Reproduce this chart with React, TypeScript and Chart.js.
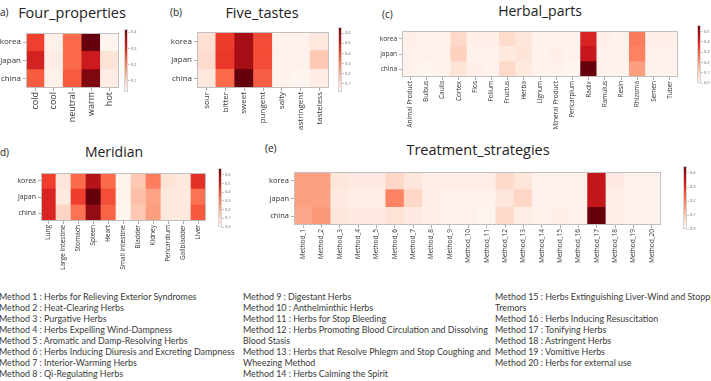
import React, { useEffect, useRef } from "react";
import { Chart, registerables } from "chart.js";

Chart.register(...registerables);

// ---------- data ----------
const rowNames = ["korea", "japan", "china"];

const propertyLabels = ["cold", "cool", "neutral", "warm", "hot"];
const propertyKorea = [0.27, 0.04, 0.225, 0.42, 0.03];
const propertyJapan = [0.31, 0.05, 0.225, 0.32, 0.07];
const propertyChina = [0.24, 0.04, 0.24, 0.4, 0.05];
const propertyTicks = [0.1, 0.2, 0.3, 0.4];

const tasteLabels = ["sour", "bitter", "sweet", "pungent", "salty", "astringent", "tasteless"];
const tasteKorea = [0.1, 0.42, 0.58, 0.39, 0.03, 0.03, 0.07];
const tasteJapan = [0.11, 0.43, 0.58, 0.39, 0.03, 0.03, 0.15];
const tasteChina = [0.07, 0.34, 0.66, 0.36, 0.03, 0.02, 0.05];
const tasteTicks = [0.1, 0.2, 0.3, 0.4, 0.5, 0.6];

const partLabels = [
  "Animal Product", "Bulbus", "Caulis", "Cortex", "Flos", "Folium", "Fructus", "Herba",
  "Lignum", "Mineral Product", "Pericarpium", "Radix", "Ramulus", "Resin", "Rhizoma", "Semen", "Tuber",
];
const partKorea = [0.02, 0.01, 0.01, 0.085, 0.02, 0.02, 0.08, 0.05, 0.01, 0.01, 0.01, 0.4, 0.02, 0.01, 0.25, 0.02, 0.02];
const partJapan = [0.01, 0.01, 0.01, 0.1, 0.01, 0.01, 0.04, 0.06, 0.01, 0.02, 0.01, 0.43, 0.01, 0.01, 0.24, 0.01, 0.01];
const partChina = [0.01, 0.0, 0.01, 0.06, 0.02, 0.01, 0.085, 0.04, 0.01, 0.01, 0.0, 0.565, 0.01, 0.01, 0.19, 0.01, 0.01];
const partTicks = [0.0, 0.1, 0.2, 0.3, 0.4, 0.5];

const meridianLabels = [
  "Lung", "Large Intestine", "Stomach", "Spleen", "Heart", "Small Intestine",
  "Bladder", "Kidney", "Pericardium", "Gallbladder", "Liver",
];
const meridianKorea = [0.42, 0.06, 0.34, 0.56, 0.34, 0.01, 0.14, 0.3, 0.07, 0.05, 0.45];
const meridianJapan = [0.48, 0.05, 0.42, 0.68, 0.39, 0.01, 0.16, 0.22, 0.05, 0.05, 0.32];
const meridianChina = [0.48, 0.11, 0.32, 0.62, 0.35, 0.0, 0.14, 0.23, 0.05, 0.05, 0.37];
const meridianTicks = [0.0, 0.1, 0.2, 0.3, 0.4, 0.5, 0.6];

const methodLabels = [
  "Method_1", "Method_2", "Method_3", "Method_4", "Method_5", "Method_6", "Method_7",
  "Method_8", "Method_9", "Method_10", "Method_11", "Method_12", "Method_13", "Method_14",
  "Method_15", "Method_16", "Method_17", "Method_18", "Method_19", "Method_20",
];
const methodKorea = [0.15, 0.15, 0.04, 0.03, 0.03, 0.07, 0.04, 0.02, 0.02, 0.02, 0.02, 0.065, 0.04, 0.01, 0.01, 0.01, 0.35, 0.03, 0.01, 0.01];
const methodJapan = [0.15, 0.15, 0.03, 0.02, 0.02, 0.19, 0.07, 0.02, 0.01, 0.01, 0.01, 0.04, 0.07, 0.01, 0.01, 0.01, 0.35, 0.02, 0.01, 0.01];
const methodChina = [0.14, 0.16, 0.04, 0.03, 0.03, 0.05, 0.03, 0.02, 0.01, 0.01, 0.0, 0.065, 0.02, 0.01, 0.02, 0.01, 0.45, 0.02, 0.01, 0.01];
const methodTicks = [0.0, 0.1, 0.2, 0.3, 0.4];

const notesLeft = [
  "Method 1 : Herbs for Relieving Exterior Syndromes",
  "Method 2 : Heat-Clearing Herbs",
  "Method 3 : Purgative Herbs",
  "Method 4 : Herbs Expelling Wind-Dampness",
  "Method 5 : Aromatic and Damp-Resolving Herbs",
  "Method 6 : Herbs Inducing Diuresis and Excreting Dampness",
  "Method 7 : Interior-Warming Herbs",
  "Method 8 : Qi-Regulating Herbs",
];
const notesMiddle = [
  "Method 9 : Digestant Herbs",
  "Method 10 : Anthelminthic Herbs",
  "Method 11 : Herbs for Stop Bleeding",
  "Method 12 : Herbs Promoting Blood Circulation and Dissolving",
  "Blood Stasis",
  "Method 13 : Herbs that Resolve Phlegm and Stop Coughing and",
  "Wheezing Method",
  "Method 14 : Herbs Calming the Spirit",
];
const notesRight = [
  "Method 15 : Herbs Extinguishing Liver-Wind and Stopping",
  "Tremors",
  "Method 16 : Herbs Inducing Resuscitation",
  "Method 17 : Tonifying Herbs",
  "Method 18 : Astringent Herbs",
  "Method 19 : Vomitive Herbs",
  "Method 20 : Herbs for external use",
];

// ---------- colour map (sequential reds) ----------
const REDS = ["#fff5f0", "#fee0d2", "#fcbba1", "#fc9272", "#fb6a4a", "#ef3b2c", "#cb181d", "#a50f15", "#67000d"];

function hexToRgb(h: string) {
  return [parseInt(h.slice(1, 3), 16), parseInt(h.slice(3, 5), 16), parseInt(h.slice(5, 7), 16)];
}

function reds(t: number) {
  const c = Math.max(0, Math.min(1, t)) * (REDS.length - 1);
  const i = Math.min(REDS.length - 2, Math.floor(c));
  const f = c - i;
  const a = hexToRgb(REDS[i]);
  const b = hexToRgb(REDS[i + 1]);
  const m = a.map((v, k) => Math.round(v + (b[k] - v) * f));
  return `rgb(${m[0]},${m[1]},${m[2]})`;
}

const FONT = "'Open Sans', 'DejaVu Sans', sans-serif";

const framePlugin = {
  id: "frame",
  afterDatasetsDraw(chart: any, _args: any, opts: any) {
    const { ctx, chartArea: a } = chart;
    ctx.save();
    ctx.strokeStyle = opts.color || "#c4c4c4";
    ctx.lineWidth = 1;
    ctx.strokeRect(Math.round(a.left) + 0.5, Math.round(a.top) + 0.5, Math.round(a.width) - 1, Math.round(a.height) - 1);
    ctx.restore();
  },
};

type Box = { x: number; y: number; w: number; h: number };

type HeatProps = {
  labels: string[];
  korea: number[];
  japan: number[];
  china: number[];
  ticks: number[];
  area: Box;
  axisW: number;
  axisH: number;
  xFont: number;
  yFont: number;
  bar: Box;
};

function Heatmap(p: HeatProps) {
  const heatRef = useRef<HTMLCanvasElement>(null);
  const barRef = useRef<HTMLCanvasElement>(null);

  useEffect(() => {
    const all = [...p.korea, ...p.japan, ...p.china];
    const vmin = Math.min(...all);
    const vmax = Math.max(...all);
    const norm = (v: number) => (v - vmin) / (vmax - vmin);
    // stacked from the bottom: china, japan, korea
    const bottomUp = [
      { name: "china", vals: p.china },
      { name: "japan", vals: p.japan },
      { name: "korea", vals: p.korea },
    ];

    const tickGrid = {
      display: true,
      drawOnChartArea: false,
      offset: false,
      tickLength: 3,
      color: "#777",
      lineWidth: 0.6,
    };

    const heat = new Chart(heatRef.current!, {
      type: "bar",
      data: {
        labels: p.labels,
        datasets: bottomUp.map((r) => ({
          label: r.name,
          data: r.vals.map(() => 1),
          backgroundColor: r.vals.map((v) => reds(norm(v))),
          borderWidth: 0,
          barPercentage: 1,
          categoryPercentage: 1,
          stack: "rows",
        })),
      },
      options: {
        responsive: false,
        animation: false,
        devicePixelRatio: 1,
        events: [],
        layout: { padding: 0 },
        plugins: { legend: { display: false }, tooltip: { enabled: false }, frame: { color: "#c0c0c0" } } as any,
        scales: {
          x: {
            stacked: true,
            offset: true,
            grid: tickGrid,
            border: { display: false },
            ticks: {
              autoSkip: false,
              minRotation: 90,
              maxRotation: 90,
              padding: 1,
              color: "#333",
              font: { family: FONT, size: p.xFont },
            },
            afterFit: (s: any) => {
              s.height = p.axisH;
              s.paddingLeft = 0;
              s.paddingRight = 0;
            },
          },
          y: {
            stacked: true,
            min: 0,
            max: 3,
            grid: tickGrid,
            border: { display: false },
            afterBuildTicks: (s: any) => {
              s.ticks = [0.5, 1.5, 2.5].map((v) => ({ value: v }));
            },
            ticks: {
              padding: 2,
              color: "#333",
              font: { family: FONT, size: p.yFont },
              callback: (v: any) => rowNames[2 - Math.floor(Number(v))],
            },
            afterFit: (s: any) => {
              s.width = p.axisW;
              s.paddingTop = 0;
              s.paddingBottom = 0;
            },
          },
        },
      },
      plugins: [framePlugin],
    });

    const bar = new Chart(barRef.current!, {
      type: "bar",
      data: {
        labels: [""],
        datasets: [
          {
            data: [[vmin, vmax]] as any,
            backgroundColor: (ctx: any) => {
              const a = ctx.chart.chartArea;
              if (!a) return "#fff";
              const g = ctx.chart.ctx.createLinearGradient(0, a.bottom, 0, a.top);
              REDS.forEach((c, i) => g.addColorStop(i / (REDS.length - 1), c));
              return g;
            },
            borderWidth: 0,
            barPercentage: 1,
            categoryPercentage: 1,
          },
        ],
      },
      options: {
        responsive: false,
        animation: false,
        devicePixelRatio: 1,
        events: [],
        layout: { padding: { top: 4, bottom: 4, left: 0, right: 0 } },
        plugins: { legend: { display: false }, tooltip: { enabled: false }, frame: { color: "#d4d4d4" } } as any,
        scales: {
          x: { display: false },
          y: {
            position: "right",
            min: vmin,
            max: vmax,
            grid: { display: true, drawOnChartArea: false, tickLength: 2, color: "#888", lineWidth: 0.5 },
            border: { display: false },
            afterBuildTicks: (s: any) => {
              s.ticks = p.ticks.filter((t) => t >= vmin - 1e-9 && t <= vmax + 1e-9).map((v) => ({ value: v }));
            },
            ticks: {
              padding: 1,
              color: "#666",
              font: { family: FONT, size: 4 },
              callback: (v: any) => Number(v).toFixed(1),
            },
            afterFit: (s: any) => {
              s.width = 14;
              s.paddingTop = 0;
              s.paddingBottom = 0;
            },
          },
        },
      },
      plugins: [framePlugin],
    });

    return () => {
      heat.destroy();
      bar.destroy();
    };
  }, []);

  return (
    <>
      <canvas
        ref={heatRef}
        width={p.axisW + p.area.w}
        height={p.area.h + p.axisH}
        style={{ position: "absolute", left: p.area.x - p.axisW, top: p.area.y }}
      />
      <canvas
        ref={barRef}
        width={p.bar.w + 14}
        height={p.bar.h + 8}
        style={{ position: "absolute", left: p.bar.x, top: p.bar.y - 4 }}
      />
    </>
  );
}

function Label({ text, x, y, size, center }: { text: string; x: number; y: number; size: number; center?: boolean }) {
  return (
    <div
      style={{
        position: "absolute",
        left: center ? x - 150 : x,
        width: center ? 300 : undefined,
        top: y - size,
        lineHeight: `${size * 2}px`,
        fontSize: size,
        fontFamily: FONT,
        color: "#222",
        textAlign: center ? "center" : "left",
        whiteSpace: "nowrap",
      }}
    >
      {text}
    </div>
  );
}

function Notes({ lines, x, y }: { lines: string[]; x: number; y: number }) {
  return (
    <div style={{ position: "absolute", left: x, top: y, fontFamily: "Lato, 'Open Sans', sans-serif", fontSize: 8.9, lineHeight: "11px", color: "#3a3a3a" }}>
      {lines.map((l, i) => (
        <div key={i} style={{ whiteSpace: "nowrap" }}>
          {l}
        </div>
      ))}
    </div>
  );
}

export default function App() {
  return (
    <div style={{ position: "absolute", left: 0, top: 0, width: 711, height: 381, background: "#fff", overflow: "hidden" }}>
      <Label text="a)" x={0} y={12} size={10} />
      <Label text="Four_properties" x={72} y={12} size={14.5} center />
      <Label text="(b)" x={170} y={12} size={10} />
      <Label text="Five_tastes" x={262} y={12} size={14.5} center />
      <Label text="(c)" x={382} y={14} size={10} />
      <Label text="Herbal_parts" x={540} y={11} size={14} center />
      <Label text="d)" x={0} y={152} size={10} />
      <Label text="Meridian" x={114} y={152} size={14} center />
      <Label text="(e)" x={265} y={148} size={10} />
      <Label text="Treatment_strategies" x={478} y={149} size={14.5} center />

      <Heatmap
        labels={propertyLabels} korea={propertyKorea} japan={propertyJapan} china={propertyChina} ticks={propertyTicks}
        area={{ x: 26, y: 33, w: 93, h: 55 }} axisW={26} axisH={45} xFont={9} yFont={8}
        bar={{ x: 124, y: 29, w: 4, h: 63 }}
      />
      <Heatmap
        labels={tasteLabels} korea={tasteKorea} japan={tasteJapan} china={tasteChina} ticks={tasteTicks}
        area={{ x: 197, y: 32, w: 132, h: 56 }} axisW={30} axisH={50} xFont={8} yFont={8}
        bar={{ x: 338, y: 27, w: 4, h: 65 }}
      />
      <Heatmap
        labels={partLabels} korea={partKorea} japan={partJapan} china={partChina} ticks={partTicks}
        area={{ x: 402, y: 31, w: 276, h: 46 }} axisW={30} axisH={60} xFont={6.5} yFont={6.5}
        bar={{ x: 697, y: 25, w: 4, h: 58 }}
      />
      <Heatmap
        labels={meridianLabels} korea={meridianKorea} japan={meridianJapan} china={meridianChina} ticks={meridianTicks}
        area={{ x: 41, y: 173, w: 165, h: 48 }} axisW={41} axisH={52} xFont={6.5} yFont={7}
        bar={{ x: 218, y: 168, w: 4, h: 59 }}
      />
      <Heatmap
        labels={methodLabels} korea={methodKorea} japan={methodJapan} china={methodChina} ticks={methodTicks}
        area={{ x: 294, y: 172, w: 367, h: 53 }} axisW={30} axisH={50} xFont={6.5} yFont={7.5}
        bar={{ x: 683, y: 166, w: 4, h: 63 }}
      />

      <Notes lines={notesLeft} x={-1} y={291} />
      <Notes lines={notesMiddle} x={243} y={291} />
      <Notes lines={notesRight} x={495} y={291} />
    </div>
  );
}
